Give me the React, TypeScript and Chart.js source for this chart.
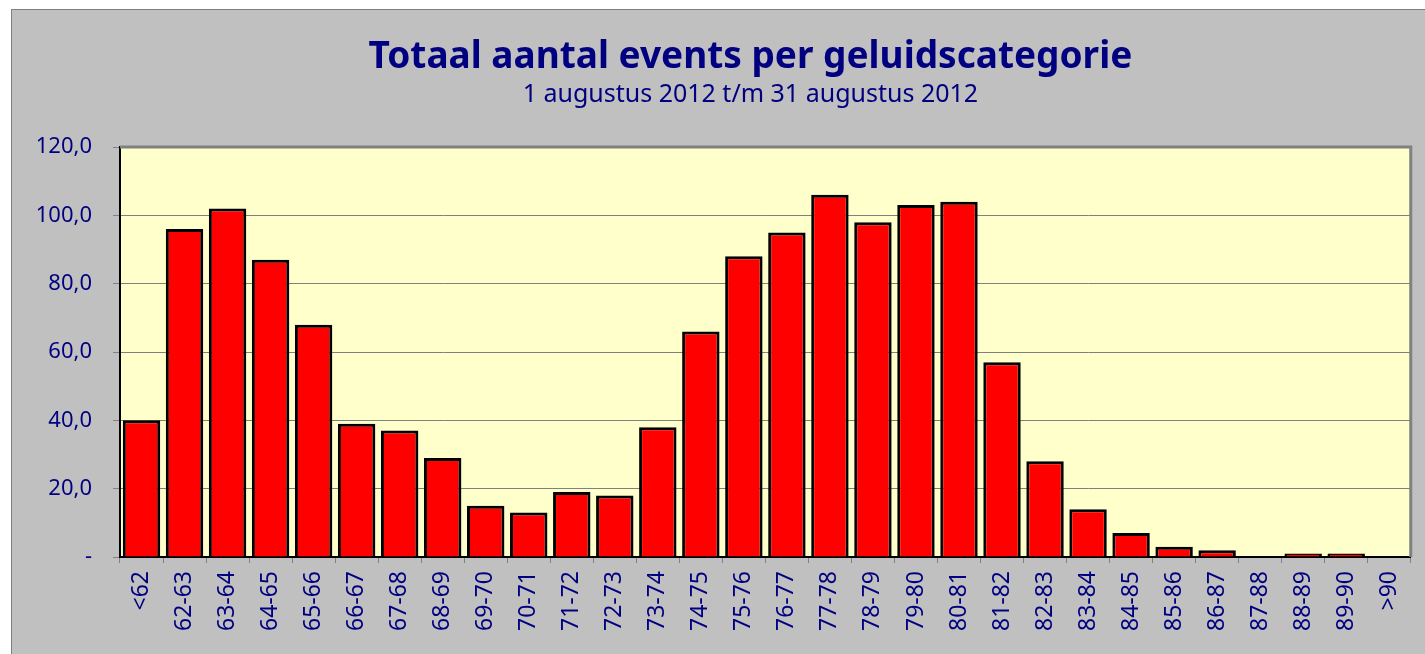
import React, { useEffect, useRef } from "react";
import { Chart, registerables } from "chart.js";

Chart.register(...registerables);

const categories = ["<62", "62-63", "63-64", "64-65", "65-66", "66-67", "67-68", "68-69", "69-70", "70-71", "71-72", "72-73", "73-74", "74-75", "75-76", "76-77", "77-78", "78-79", "79-80", "80-81", "81-82", "82-83", "83-84", "84-85", "85-86", "86-87", "87-88", "88-89", "89-90", ">90"];
const eventCounts = [40, 96, 102, 87, 68, 39, 37, 29, 15, 13, 19, 18, 38, 66, 88, 95, 106, 98, 103, 104, 57, 28, 14, 7, 3, 2, 0, 1, 1, 0];
const titleText = "Totaal aantal events per geluidscategorie";
const subtitleText = "1 augustus 2012 t/m 31 augustus 2012";
const yMin = 0;
const yMax = 120;
const yStep = 20;

const NAVY = "#000080";
const FONT = "'Noto Sans', sans-serif";

const plotAreaPlugin = {
  id: "plotArea",
  beforeDraw(chart: any) {
    const { ctx, chartArea } = chart;
    ctx.save();
    ctx.fillStyle = "#ffffcc";
    ctx.fillRect(chartArea.left, chartArea.top, chartArea.right - chartArea.left, chartArea.bottom - chartArea.top);
    ctx.restore();
  },
  afterDraw(chart: any) {
    const { ctx, chartArea } = chart;
    ctx.save();
    ctx.strokeStyle = "#808080";
    ctx.lineWidth = 3;
    ctx.beginPath();
    ctx.moveTo(chartArea.left, chartArea.top);
    ctx.lineTo(chartArea.right, chartArea.top);
    ctx.lineTo(chartArea.right, chartArea.bottom);
    ctx.stroke();

    // chart titles (centred on the full chart panel)
    const cx = (chartArea.left + chartArea.right) / 2 - 15;
    ctx.fillStyle = NAVY;
    ctx.textAlign = "center";
    ctx.textBaseline = "alphabetic";
    ctx.font = `bold 37px ${FONT}`;
    ctx.fillText(titleText, cx, 68);
    ctx.font = `25px ${FONT}`;
    ctx.fillText(subtitleText, cx, 102);
    ctx.restore();
  },
};

export default function App() {
  const ref = useRef<HTMLCanvasElement>(null);

  useEffect(() => {
    if (!ref.current) return;
    const chart = new Chart(ref.current, {
      type: "bar",
      data: {
        labels: categories,
        datasets: [
          {
            data: eventCounts,
            backgroundColor: "#ff0000",
            borderColor: "#000000",
            borderWidth: 3,
            barPercentage: 0.87,
            categoryPercentage: 1,
          },
        ],
      },
      options: {
        responsive: false,
        animation: false,
        layout: { padding: { top: 147, left: 20, right: 10, bottom: 0 } },
        plugins: {
          legend: { display: false },
          tooltip: { enabled: false },
          title: { display: false },
        },
        scales: {
          x: {
            offset: true,
            grid: {
              offset: true,
              drawOnChartArea: false,
              drawTicks: true,
              tickLength: 6,
              tickColor: "#808080",
            },
            border: { color: "#000000", width: 2 },
            ticks: {
              color: NAVY,
              font: { family: FONT, size: 23 },
              minRotation: 90,
              maxRotation: 90,
              padding: 8,
              autoSkip: false,
            },
            afterFit(scale: any) {
              scale.height = 97;
            },
          },
          y: {
            min: yMin,
            max: yMax,
            grid: {
              color: "#808080",
              lineWidth: 1,
              tickLength: 7,
              tickColor: "#808080",
            },
            border: { color: "#000000", width: 2 },
            ticks: {
              stepSize: yStep,
              color: NAVY,
              font: { family: FONT, size: 22 },
              padding: 21,
              callback: (v: any) => (Number(v) === 0 ? "-" : Number(v).toFixed(1).replace(".", ",")),
            },
            afterFit(scale: any) {
              scale.width = 100;
            },
          },
        },
      },
      plugins: [plotAreaPlugin],
    });
    return () => chart.destroy();
  }, []);

  return (
    <div style={{ position: "fixed", left: 0, top: 0, width: 1425, height: 654, background: "#ffffff", overflow: "hidden" }}>
      <div
        style={{
          position: "absolute",
          left: 11,
          top: 9,
          width: 1450,
          height: 700,
          background: "#c0c0c0",
          border: "1px solid #808080",
        }}
      />
      <canvas ref={ref} width={1425} height={654} style={{ position: "absolute", left: 0, top: 0 }} />
    </div>
  );
}
